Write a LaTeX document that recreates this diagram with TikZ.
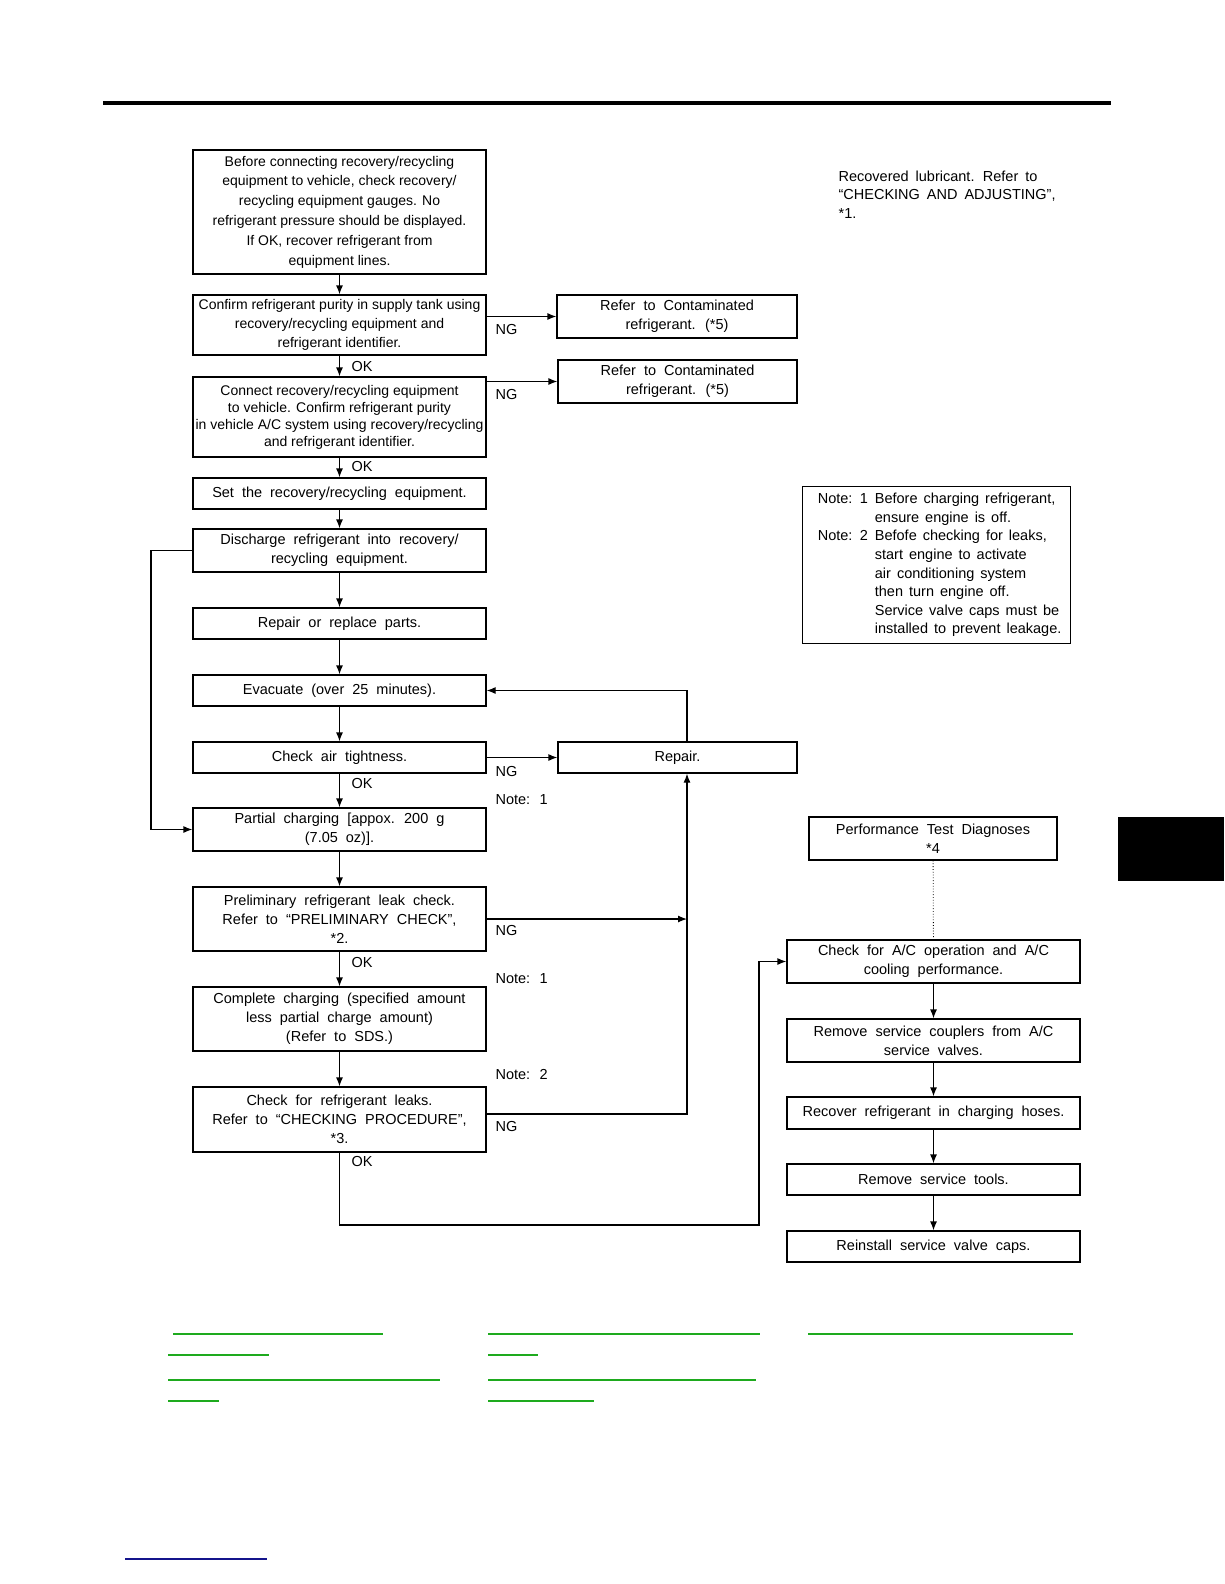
\documentclass[tikz,border=0pt]{standalone}
\usepackage{fontspec}
\setmainfont{Liberation Sans}
\usepackage{tikz}
\usetikzlibrary{arrows.meta}
\definecolor{LinkGreen}{RGB}{30,170,30}
\definecolor{LinkBlue}{RGB}{20,20,140}

\begin{document}
\begin{tikzpicture}[x=1pt,y=-1pt,line width=1.2pt,
  font={\fontsize{14.5}{19}\selectfont\spaceskip=8pt plus 2pt minus 1pt},
  box/.style n args={2}{draw,minimum width=#1pt,minimum height=#2pt,inner sep=1pt,align=center,rectangle},
  tight/.style={font={\fontsize{14}{#1}\selectfont\spaceskip=0pt}},
  arr/.style={-{Latex[length=9pt,width=7pt]}},
  lbl/.style={anchor=west,inner sep=0pt}]
\useasboundingbox (0,0) rectangle (1224,1584);
% page furniture
\draw[line width=4pt] (103,103) -- (1111,103);
\fill (1118,817) rectangle (1224,881);
\draw[LinkBlue,line width=1.5pt] (125,1559) -- (267,1559);
\foreach \xa/\xb/\y in %
{173/383/1334,168/269/1355,168/440/1380,168/219/1401,488/760/1334,488/538/1355,488/756/1380,488/594/1401,808/1073/1334} {
   \draw[LinkGreen,line width=2pt] (\xa,\y) -- (\xb,\y);
}
% left column
\node[box={293}{124},tight=19.8](before) at(339.5,212) {Before connecting recovery/recycling\\equipment to vehicle, check recovery/\\recycling equipment gauges. No\\refrigerant pressure should be displayed.\\If OK, recover refrigerant from\\equipment lines.};
\node[box={293}{60},tight=19](purity) at(339.5,325) {Confirm refrigerant purity in supply tank using\\recovery/recycling equipment and\\refrigerant identifier.};
\node[box={240}{43}](contam1) at(677,316.5) {Refer to Contaminated\\refrigerant. (*5)};
\node[box={293}{80},tight=17](connect) at(339.5,417) {Connect recovery/recycling equipment\\to vehicle. Confirm refrigerant purity\\in vehicle A/C system using recovery/recycling\\and refrigerant identifier.};
\node[box={239}{43}](contam2) at(677.5,381.5) {Refer to Contaminated\\refrigerant. (*5)};
\node[box={293}{31}](setup) at(339.5,493.5) {Set the recovery/recycling equipment.};
\node[box={293}{43}](discharge) at(339.5,550.5) {Discharge refrigerant into recovery/\\recycling equipment.};
\node[box={293}{31}](parts) at(339.5,623.5) {Repair or replace parts.};
\node[box={293}{31}](evac) at(339.5,690.5) {Evacuate (over 25 minutes).};
\node[box={293}{31}](airtight) at(339.5,757.5) {Check air tightness.};
\node[box={239}{31}](repair) at(677.5,757.5) {Repair.};
\node[box={293}{43}](partial) at(339.5,829.5) {Partial charging [appox. 200 g\\(7.05 oz)].};
\node[box={293}{64}](prelim) at(339.5,919) {Preliminary refrigerant leak check.\\Refer to “PRELIMINARY CHECK”,\\*2.};
\node[box={293}{64}](complete) at(339.5,1019) {Complete charging (specified amount\\less partial charge amount)\\(Refer to SDS.)};
\node[box={293}{65}](leaks) at(339.5,1119.5) {Check for refrigerant leaks.\\Refer to “CHECKING PROCEDURE”,\\*3.};
% right column
\node[anchor=north west,align=left,inner sep=0pt,font={\fontsize{14.5}{18.5}\selectfont\spaceskip=7pt plus 2pt}](lubricant) at(838,170) {Recovered lubricant. Refer to\\“CHECKING AND ADJUSTING”,\\*1.};
\node[draw,minimum width=268pt,minimum height=157pt,inner sep=0pt,anchor=north west,font={\fontsize{14.5}{18.6}\selectfont\spaceskip=6pt plus 2pt}](notes) at(802,486) {%
\hspace{6pt}\begin{tabular}{@{}l@{\hspace{7pt}}l@{}}
Note: 1 & Before charging refrigerant,\\
        & ensure engine is off.\\
Note: 2 & Befofe checking for leaks,\\
        & start engine to activate\\
        & air conditioning system\\
        & then turn engine off.\\
        & Service valve caps must be\\
        & installed to prevent leakage.
\end{tabular}\hspace*{\fill}};
\node[box={248}{43}](perf) at(933,838.5) {Performance Test Diagnoses\\*4};
\node[box={293}{43}](acchk) at(933.5,961.5) {Check for A/C operation and A/C\\cooling performance.};
\node[box={293}{43}](couplers) at(933.5,1040.5) {Remove service couplers from A/C\\service valves.};
\node[box={293}{32}](hoses) at(933.5,1113) {Recover refrigerant in charging hoses.};
\node[box={293}{31}](tools) at(933.5,1179.5) {Remove service tools.};
\node[box={293}{31}](caps) at(933.5,1246.5) {Reinstall service valve caps.};
% connectors
\foreach \a/\b in {before/purity,purity/connect,connect/setup,setup/discharge,discharge/parts,parts/evac,evac/airtight,airtight/partial,partial/prelim,prelim/complete,complete/leaks,acchk/couplers,couplers/hoses,hoses/tools,tools/caps} {
   \draw[arr] (\a) -- (\b);
}
\draw[arr] (purity.east |- contam1.west) -- (contam1.west);
\draw[arr] (connect.east |- contam2.west) -- (contam2.west);
\draw[arr] (airtight) -- (repair);
\draw[arr] ([xshift=9.5pt]repair.north) |- (evac.east);
\coordinate (ngjoin) at (687,919);
\draw[arr] (prelim.east) -- (ngjoin);
\draw[arr] ([yshift=5.5pt]leaks.east) -| ([xshift=9.5pt]repair.south);
\coordinate (loopx) at (151,548);
\draw[arr] (discharge.west) -- (discharge.west -| loopx) |- (partial.west);
\coordinate (okturn) at (759,1225);
\draw[arr] (leaks.south) |- (okturn) |- (acchk.west);
\draw[dotted,line width=0.8pt] (perf) -- (acchk);
% labels
\node[lbl](ng1) at(495,330) {NG};
\node[lbl](ng2) at(495,395) {NG};
\node[lbl](ng3) at(495,771) {NG};
\node[lbl](ng4) at(495,930) {NG};
\node[lbl](ng5) at(495,1126) {NG};
\node[lbl](ok1) at(351,367) {OK};
\node[lbl](ok2) at(351,467) {OK};
\node[lbl](ok3) at(351,783) {OK};
\node[lbl](ok4) at(351,962) {OK};
\node[lbl](ok5) at(351,1161) {OK};
\node[lbl](note1) at(495,800) {Note: 1};
\node[lbl](note2) at(495,979) {Note: 1};
\node[lbl](note3) at(495,1074) {Note: 2};
\end{tikzpicture}
\end{document}
